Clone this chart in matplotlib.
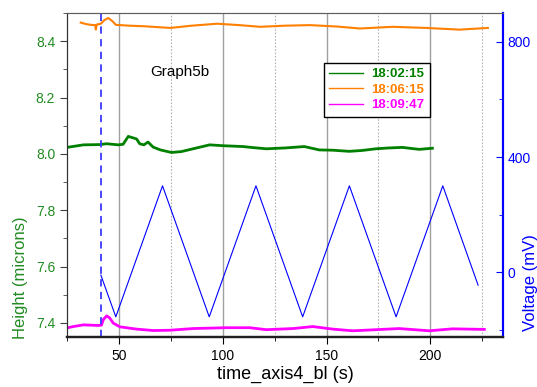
import matplotlib.pyplot as plt
from matplotlib.ticker import MultipleLocator
from matplotlib.lines import Line2D

plt.rcParams['font.family'] = ['Liberation Sans', 'DejaVu Sans']

# height traces (microns) vs time (s)
t_green = [25, 32.9, 40.9, 44, 49.7, 52, 54.5, 58.5, 60, 62, 64, 66.5, 70, 75.3, 80, 85.7, 93.7,
           100, 109.7, 115, 121, 130, 139.3, 146.5, 153, 160.9, 167, 173.7, 180, 186.5, 194.6, 201]
h_green = [8.023, 8.032, 8.033, 8.036, 8.032, 8.034, 8.062, 8.053, 8.036, 8.032, 8.042, 8.024, 8.014, 8.005,
           8.008, 8.018, 8.032, 8.029, 8.026, 8.022, 8.018, 8.021, 8.026, 8.014, 8.013, 8.009, 8.012, 8.018,
           8.021, 8.023, 8.016, 8.020]

t_orange = [31.6, 34, 36.4, 38.5, 38.9, 39.3, 41.3, 43, 45, 47, 48.5, 55, 62, 74.8, 85, 97.3,
            108, 118, 130, 142, 155, 166, 182, 198, 214, 227.7]
h_orange = [8.466, 8.461, 8.458, 8.457, 8.441, 8.459, 8.462, 8.475, 8.482, 8.470, 8.458, 8.455, 8.453,
            8.447, 8.455, 8.462, 8.457, 8.451, 8.455, 8.457, 8.452, 8.445, 8.451, 8.447, 8.441, 8.447]

t_mag = [24.8, 28, 32.9, 40, 41.6, 42.5, 44.1, 45.5, 47.3, 50.5, 58.5, 66.5, 74.5, 85.7, 101.8, 113,
         121, 133.8, 143.4, 153, 162.6, 173.9, 185, 199.5, 210.7, 226]
h_mag = [7.382, 7.387, 7.393, 7.391, 7.392, 7.412, 7.425, 7.418, 7.399, 7.386, 7.378, 7.373, 7.374,
         7.380, 7.383, 7.383, 7.376, 7.380, 7.387, 7.378, 7.372, 7.376, 7.380, 7.372, 7.379, 7.377]

# voltage (mV) triangle
t_volt = [41.3, 48.5, 71, 93.5, 116, 138.5, 161, 183.5, 206, 223]
v_volt = [-10, -155, 300, -155, 300, -155, 300, -155, 300, -45]

labels = ['18:02:15', '18:06:15', '18:09:47']
colors = ['#008000', '#ff8000', '#ff00ff']
blue = '#0000ff'

fig = plt.figure(figsize=(5.37, 3.87), dpi=100)
ax = fig.add_axes([0.1248, 0.1292, 0.8119, 0.8372])
ax2 = ax.twinx()

# vertical grid
for x in [50, 100, 150, 200]:
    ax.axvline(x, color='#a0a0a0', lw=1.0, zorder=0)
for x in [75, 125, 175, 225]:
    ax.axvline(x, color='#b4b4b4', lw=0.8, ls=(0, (1.5, 1.5)), zorder=0)

ax.plot(t_green, h_green, color=colors[0], lw=2.0)
ax.plot(t_orange, h_orange, color=colors[1], lw=1.5)
ax.plot(t_mag, h_mag, color=colors[2], lw=2.0)
ax.axvline(41.3, color='#3a3aff', lw=1.3, ls=(0, (4, 3)))

ax2.plot(t_volt, v_volt, color=blue, lw=0.8)

ax.set_xlim(25, 235)
ax.set_ylim(7.35, 8.5)
ax2.set_ylim(-225, 900)

ax.xaxis.set_major_locator(MultipleLocator(50))
ax.xaxis.set_minor_locator(MultipleLocator(25))
ax.yaxis.set_major_locator(MultipleLocator(0.2))
ax.yaxis.set_minor_locator(MultipleLocator(0.1))
ax2.yaxis.set_major_locator(MultipleLocator(400))
ax2.yaxis.set_minor_locator(MultipleLocator(200))

ax.tick_params(axis='y', which='both', direction='out', colors='#404040', labelcolor='#228b22', labelsize=10)
ax.tick_params(axis='y', which='major', length=5)
ax.tick_params(axis='y', which='minor', length=3)
ax.tick_params(axis='x', which='both', direction='out', labelsize=10, top=False)
ax.tick_params(axis='x', which='major', length=5)
ax.tick_params(axis='x', which='minor', length=3)
ax2.tick_params(axis='y', which='both', direction='in', colors=blue, labelsize=10)
ax2.tick_params(axis='y', which='major', length=5)
ax2.tick_params(axis='y', which='minor', length=3)

for a in (ax, ax2):
    a.spines['top'].set_color('#606060')
    a.spines['left'].set_color('#303030')
    a.spines['bottom'].set_color('#202020')
    a.spines['bottom'].set_linewidth(1.6)
    a.spines['right'].set_color(blue)
    a.spines['right'].set_linewidth(1.5)

# axis titles sit low on both sides, like the original
ax.set_ylabel('Height (microns)', color='#228b22', fontsize=12)
ax.yaxis.set_label_coords(-0.089, 0.182)
ax2.set_ylabel('Voltage (mV)', color=blue, fontsize=12)
ax2.yaxis.set_label_coords(1.046, 0.167)
ax.set_xlabel('time_axis4_bl (s)', fontsize=13, labelpad=2)

ax.text(64.9, 8.29, 'Graph5b', fontsize=11, va='center', ha='left')

handles = [Line2D([], [], color=c, lw=1) for c in colors]
leg = ax2.legend(handles, labels, loc='upper left', bbox_to_anchor=(0.589, 0.846), frameon=True,
                 fancybox=False, edgecolor='black', framealpha=1, handlelength=2.6,
                 prop={'weight': 'bold', 'size': 9.5}, borderpad=0.4, labelspacing=0.25,
                 handletextpad=0.6, borderaxespad=0)
leg.get_frame().set_linewidth(1.0)
for txt, c in zip(leg.get_texts(), colors):
    txt.set_color(c)

fig.savefig('out.png', dpi=100)
